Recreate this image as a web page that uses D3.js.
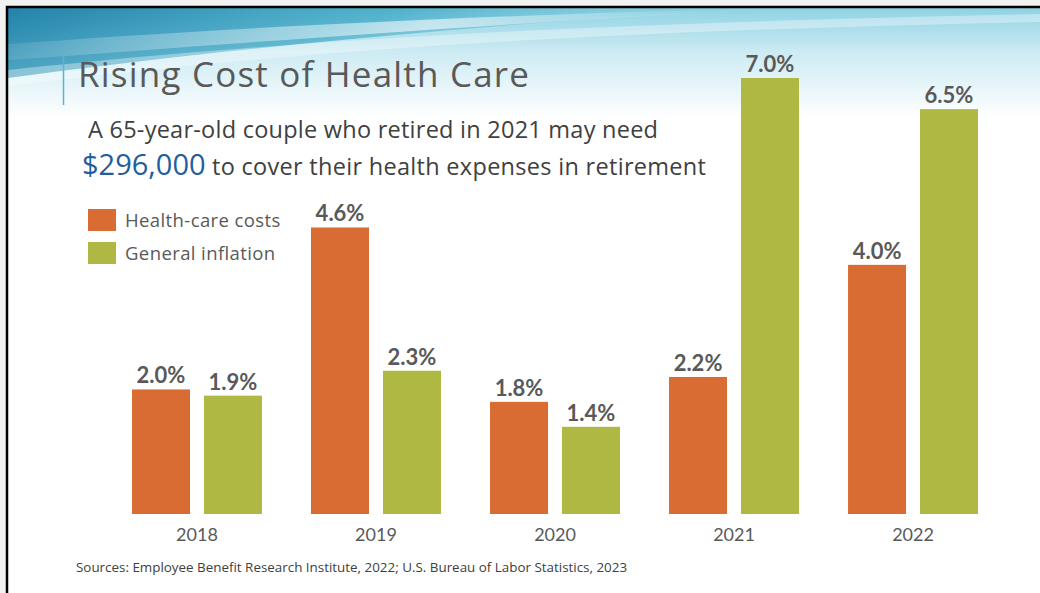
<!DOCTYPE html>
<html>
<head>
<meta charset="utf-8">
<script src="https://cdn.jsdelivr.net/npm/d3@7"></script>
<style>
  html, body { margin: 0; padding: 0; background: #f2f2f2; }
  svg { display: block; font-family: "Open Sans", "Noto Sans", sans-serif; }
</style>
</head>
<body>
<div id="chart"></div>
<script>
// data
const years = ['2018', '2019', '2020', '2021', '2022'];
const seriesNames = ['Health-care costs', 'General inflation'];
const healthCare = [2.0, 4.6, 1.8, 2.2, 4.0];
const inflation = [1.9, 2.3, 1.4, 7.0, 6.5];
const seriesColors = ['#d96c33', '#afb842'];

const width = 1040, height = 593;

const svg = d3.select('#chart')
    .append('svg')
    .attr('width', width)
    .attr('height', height);

const defs = svg.append('defs');

// header wash
const wash = defs.append('linearGradient')
    .attr('id', 'wash').attr('x1', 0).attr('y1', 0).attr('x2', 0).attr('y2', 1);
wash.append('stop').attr('offset', 0).attr('stop-color', '#8fd2e3');
wash.append('stop').attr('offset', 0.4).attr('stop-color', '#cdebf3');
wash.append('stop').attr('offset', 1).attr('stop-color', '#ffffff');

const swoosh = defs.append('linearGradient')
    .attr('id', 'swoosh').attr('x1', 0).attr('y1', 0).attr('x2', 1).attr('y2', 0.3);
swoosh.append('stop').attr('offset', 0).attr('stop-color', '#1d7ea6').attr('stop-opacity', 0.95);
swoosh.append('stop').attr('offset', 0.5).attr('stop-color', '#3aa6c4').attr('stop-opacity', 0.7);
swoosh.append('stop').attr('offset', 1).attr('stop-color', '#8fd2e2').attr('stop-opacity', 0);

const streak = defs.append('linearGradient')
    .attr('id', 'streak').attr('x1', 0).attr('y1', 0).attr('x2', 1).attr('y2', 0);
streak.append('stop').attr('offset', 0).attr('stop-color', '#ffffff').attr('stop-opacity', 0.1);
streak.append('stop').attr('offset', 0.6).attr('stop-color', '#ffffff').attr('stop-opacity', 0.6);
streak.append('stop').attr('offset', 1).attr('stop-color', '#ffffff').attr('stop-opacity', 0);

// slide area
svg.append('rect')
    .attr('x', 6).attr('y', 6)
    .attr('width', width - 6).attr('height', height - 6)
    .attr('fill', '#ffffff');

svg.append('rect')
    .attr('x', 8).attr('y', 8)
    .attr('width', width - 8).attr('height', 110)
    .attr('fill', 'url(#wash)');

svg.append('path')
    .attr('d', 'M8,8 L760,8 C520,22 250,45 8,78 Z')
    .attr('fill', 'url(#swoosh)');

svg.append('path')
    .attr('d', 'M8,44 C200,30 420,18 700,10 L720,12 C460,26 230,44 8,60 Z')
    .attr('fill', 'url(#streak)');

svg.append('path')
    .attr('d', 'M8,70 C250,45 500,25 1040,14 L1040,22 C560,32 280,52 8,86 Z')
    .attr('fill', '#ffffff').attr('opacity', 0.35);

// frame
svg.append('path')
    .attr('d', `M7,${height} L7,7 L${width},7`)
    .attr('fill', 'none')
    .attr('stroke', '#000')
    .attr('stroke-width', 2.5);

// accent line beside title
svg.append('line')
    .attr('x1', 63.5).attr('x2', 63.5)
    .attr('y1', 52).attr('y2', 105)
    .attr('stroke', '#5ab4d4').attr('stroke-width', 1.5);

svg.append('text')
    .attr('x', 78).attr('y', 87)
    .attr('font-size', 35)
    .attr('letter-spacing', 1.2)
    .attr('fill', '#595959')
    .text('Rising Cost of Health Care');

svg.append('text')
    .attr('x', 88).attr('y', 138)
    .attr('font-size', 23.5)
    .attr('letter-spacing', 0.25)
    .attr('fill', '#404040')
    .text('A 65-year-old couple who retired in 2021 may need');

const line2 = svg.append('text')
    .attr('x', 82).attr('y', 175)
    .attr('fill', '#404040');
line2.append('tspan')
    .attr('font-size', 29)
    .attr('fill', '#1f5f9e')
    .text('$296,000');
line2.append('tspan')
    .attr('font-size', 23.5)
    .attr('letter-spacing', 0.3)
    .text(' to cover their health expenses in retirement');

// scales
const x0 = d3.scaleBand()
    .domain(years)
    .range([132, 978])
    .paddingInner(0.274)
    .paddingOuter(0);

const x1 = d3.scaleBand()
    .domain(seriesNames)
    .range([0, x0.bandwidth()])
    .paddingInner(0.194);

const y = d3.scaleLinear()
    .domain([0, 7])
    .range([514, 78]);

const color = d3.scaleOrdinal().domain(seriesNames).range(seriesColors);

const rows = years.map((yr, i) => ({
    year: yr,
    values: [
        { name: seriesNames[0], value: healthCare[i] },
        { name: seriesNames[1], value: inflation[i] }
    ]
}));

const groups = svg.append('g')
    .selectAll('g')
    .data(rows)
    .enter()
    .append('g')
    .attr('transform', d => `translate(${x0(d.year)},0)`);

groups.selectAll('rect')
    .data(d => d.values)
    .enter()
    .append('rect')
    .attr('x', d => x1(d.name))
    .attr('y', d => y(d.value))
    .attr('width', x1.bandwidth())
    .attr('height', d => y(0) - y(d.value))
    .attr('fill', d => color(d.name));

groups.selectAll('text')
    .data(d => d.values)
    .enter()
    .append('text')
    .attr('x', d => x1(d.name) + x1.bandwidth() / 2)
    .attr('y', d => y(d.value) - 6)
    .attr('text-anchor', 'middle')
    .attr('font-family', 'Lato, sans-serif')
    .attr('font-size', 22)
    .attr('font-weight', 700)
    .attr('fill', '#595959')
    .text(d => d.value.toFixed(1) + '%');

// year axis
const xAxis = svg.append('g')
    .attr('transform', `translate(0,${y(0)})`)
    .call(d3.axisBottom(x0).tickSize(0).tickPadding(14));
xAxis.select('.domain').remove();
xAxis.selectAll('text')
    .attr('font-family', 'Lato, "Noto Sans", sans-serif')
    .attr('font-size', 18)
    .attr('fill', '#595959');

// legend
const legend = svg.append('g')
    .selectAll('g')
    .data(seriesNames)
    .enter()
    .append('g')
    .attr('transform', (d, i) => `translate(88,${209 + i * 33})`);

legend.append('rect')
    .attr('width', 28).attr('height', 22)
    .attr('fill', d => color(d));

legend.append('text')
    .attr('x', 37).attr('y', 18)
    .attr('font-size', 18.5)
    .attr('letter-spacing', 0.4)
    .attr('fill', '#595959')
    .text(d => d);

svg.append('text')
    .attr('x', 76).attr('y', 572)
    .attr('font-size', 13.4)
    .attr('fill', '#404040')
    .text('Sources:  Employee Benefit Research Institute, 2022; U.S. Bureau of Labor Statistics, 2023');
</script>
</body>
</html>
